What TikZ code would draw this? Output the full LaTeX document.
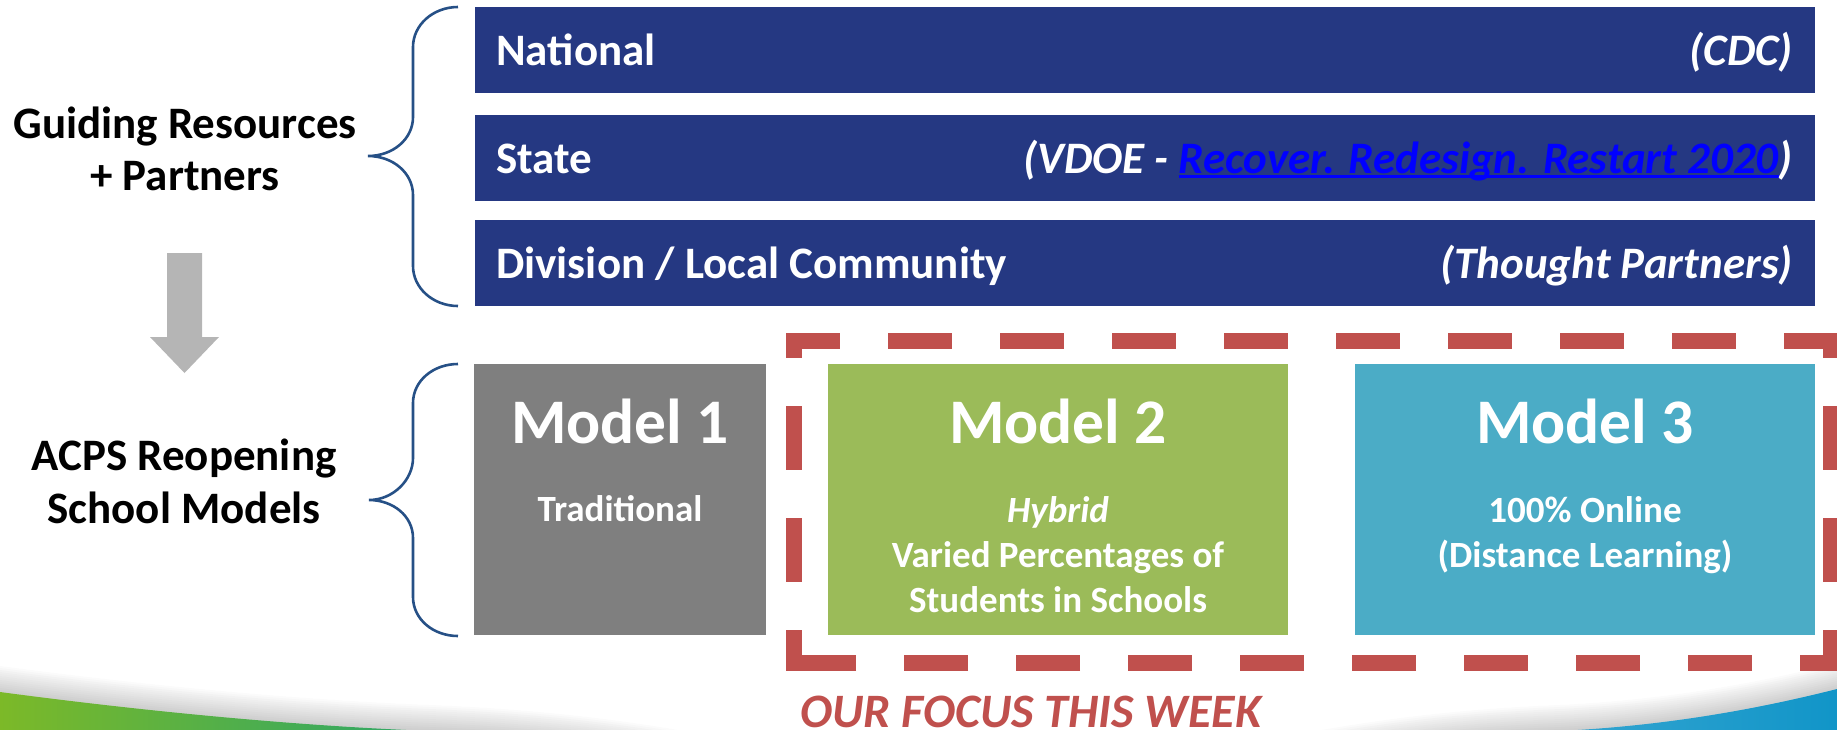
\documentclass[tikz,border=0pt]{standalone}
\usepackage{fontspec}
\setmainfont{Carlito}

\definecolor{barblue}{RGB}{37,56,130}
\definecolor{braceblue}{RGB}{38,80,134}
\definecolor{arrowgray}{RGB}{181,181,181}
\definecolor{modelgray}{RGB}{127,127,127}
\definecolor{modelgreen}{RGB}{155,187,89}
\definecolor{modelblue}{RGB}{75,172,198}
\definecolor{focusred}{RGB}{192,80,77}
\definecolor{linkblue}{RGB}{0,0,255}
\definecolor{swooshgreenA}{RGB}{124,185,40}
\definecolor{swooshgreenB}{RGB}{44,166,104}
\definecolor{swooshblue}{RGB}{17,149,200}

% underlined hyperlink text with a heavier rule
\newcommand\linkul[1]{\setbox0\hbox{#1}\rlap{\rule[-5pt]{\wd0}{2.6pt}}\box0}

\tikzset{
  bar/.style={fill=barblue, draw=none, inner sep=0pt, minimum width=1340pt, minimum height=85.5pt},
  bartext/.style={text=white, inner sep=0pt, font=\fontsize{45}{53}\selectfont\bfseries},
  barnote/.style={bartext, font=\fontsize{45}{53}\selectfont\bfseries\itshape},
  modelbox/.style={draw=none, inner sep=0pt, minimum height=271pt},
  modeltitle/.style={text=white, inner sep=0pt, anchor=base, font=\fontsize{63.5}{70}\selectfont\bfseries},
  modeltext/.style={text=white, inner sep=0pt, anchor=base, font=\fontsize{37}{44}\selectfont\bfseries},
  sidelabel/.style={text=black, inner sep=0pt, anchor=base, font=\fontsize{45}{53}\selectfont\bfseries},
  bracket/.style={draw=braceblue, line width=2.6pt},
  focusline/.style={draw=focusred, line width=16pt, dash pattern=on 64pt off 48pt},
}

\begin{document}
\begin{tikzpicture}[x=1pt, y=-1pt]
\useasboundingbox (0,0) rectangle (1837,729);

% ---- bottom swoosh of the slide background, with a soft shadow above it ----
\foreach \d in {2,4,...,26} {
  \fill[black!70, opacity=0.022, yshift=\d pt]
    (0,692) .. controls (150,712) and (300,726) .. (430,731)
    .. controls (530,735) and (620,745) .. (700,760) -- (700,790) -- (0,790) -- cycle;
  \fill[black!70, opacity=0.022, yshift=\d pt]
    (1837,689) .. controls (1750,711) and (1660,726) .. (1560,731)
    .. controls (1460,735) and (1380,745) .. (1300,760) -- (1300,790) -- (1837,790) -- cycle;
}
\shade[left color=swooshgreenA, right color=swooshgreenB]
  (0,692) .. controls (150,712) and (300,726) .. (430,731) -- (0,731) -- cycle;
\shade[left color=swooshblue!85!white, right color=swooshblue]
  (1837,689) .. controls (1750,711) and (1660,726) .. (1560,731) -- (1837,731) -- cycle;

% ---- guiding resources bars ----
\node[bar] (national) at (1145,50)    {};
\node[bar] (state)    at (1145,158)   {};
\node[bar] (division) at (1145,263)   {};

\node[bartext, anchor=base west] (national-l) at (496,65)  {National};
\node[barnote, anchor=base east] (national-r) at (1793,65) {(CDC)};
\node[bartext, anchor=base west] (state-l)    at (496,173) {State};
\node[barnote, anchor=base east] (state-r)    at (1793,173)
  {(VDOE - \textcolor{linkblue}{\linkul{Recover. Redesign. Restart 2020}})};
\node[bartext, anchor=base west] (division-l) at (496,278) {Division / Local Community};
\node[barnote, anchor=base east] (division-r) at (1793,278) {(Thought Partners)};

% ---- reopening model boxes ----
\node[modelbox, fill=modelgray,  minimum width=292pt] (model1) at (620,499.5)  {};
\node[modelbox, fill=modelgreen, minimum width=460pt] (model2) at (1058,499.5) {};
\node[modelbox, fill=modelblue,  minimum width=460pt] (model3) at (1585,499.5) {};

\node[modeltitle] (model1-title) at (620,443)  {Model 1};
\node[modeltext]  (model1-kind)  at (620,521)  {Traditional};

\node[modeltitle] (model2-title) at (1058,443) {Model 2};
\node[modeltext, font=\fontsize{37}{44}\selectfont\bfseries\itshape]
                  (model2-kind)  at (1058,522) {Hybrid};
\node[modeltext]  (model2-line1) at (1058,567) {Varied Percentages of};
\node[modeltext]  (model2-line2) at (1058,612) {Students in Schools};

\node[modeltitle] (model3-title) at (1585,443) {Model 3};
\node[modeltext]  (model3-kind)  at (1585,522) {100\% Online};
\node[modeltext]  (model3-line1) at (1585,567) {(Distance Learning)};

% ---- dashed focus frame (top, right, bottom; then the left side) ----
\path[focusline, dash phase=10pt] (786,341) -- (1831,341) -- (1831,663) -- (786,663);
\path[focusline, dash phase=39pt] (794,333) -- (794,671);

\node[text=focusred, inner sep=0pt, anchor=base, font=\fontsize{48}{56}\selectfont\bfseries\itshape]
  (focus) at (1031,727) {OUR FOCUS THIS WEEK};

% ---- left-hand labels ----
\node[sidelabel] (guide-1) at (185,138) {Guiding Resources};
\node[sidelabel] (guide-2) at (185,190) {+ Partners};
\node[sidelabel] (acps-1)  at (184,470) {ACPS Reopening};
\node[sidelabel] (acps-2)  at (184,523) {School Models};

% ---- braces ----
\draw[bracket] (458,7) .. controls (433,7) and (413,25) .. (413,47) -- (413,117)
  .. controls (413,139) and (393,156) .. (368,156)
  .. controls (393,156) and (413,173) .. (413,195) -- (413,266)
  .. controls (413,288) and (433,306) .. (458,306);
\draw[bracket] (458,364) .. controls (433,364) and (413,381) .. (413,403) -- (413,458)
  .. controls (413,480) and (393,500) .. (369,500)
  .. controls (393,500) and (413,516) .. (413,538) -- (413,597)
  .. controls (413,619) and (433,636) .. (458,636);

% ---- block arrow between the two groups ----
\fill[arrowgray] (167,253) -- (202,253) -- (202,337) -- (219,337) -- (184.5,373)
  -- (150,337) -- (167,337) -- cycle;
\end{tikzpicture}
\end{document}
